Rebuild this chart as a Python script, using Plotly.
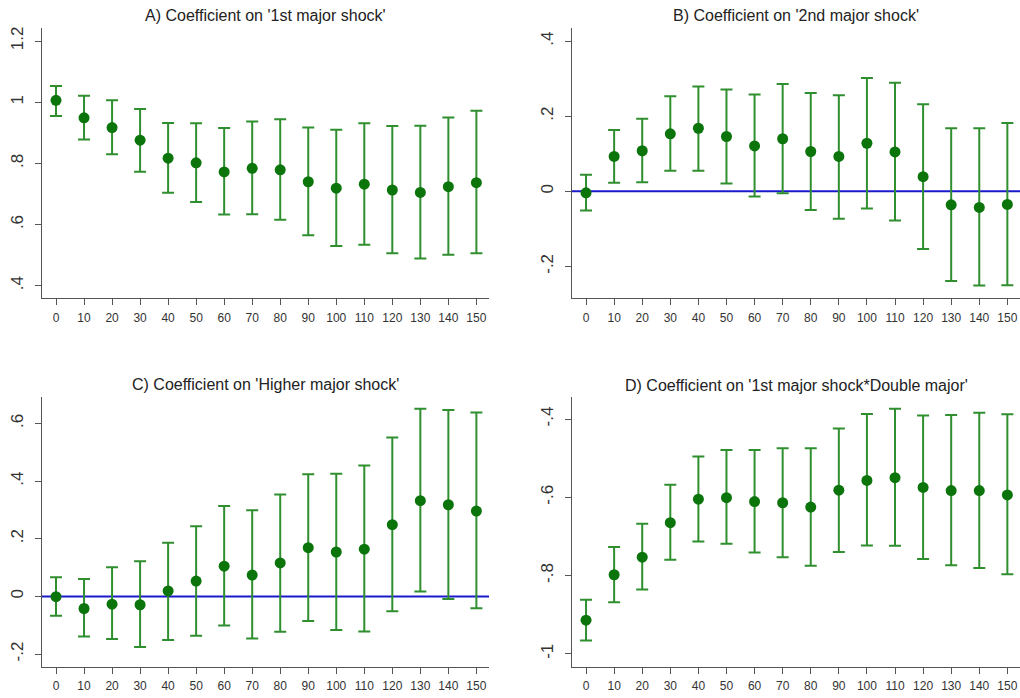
import plotly.graph_objects as go

x_vals = [0, 10, 20, 30, 40, 50, 60, 70, 80, 90, 100, 110, 120, 130, 140, 150]

titles = [
    "A) Coefficient on '1st major shock'",
    "B) Coefficient on '2nd major shock'",
    "C) Coefficient on 'Higher major shock'",
    "D) Coefficient on '1st major shock*Double major'",
]

a_coef = [1.006, 0.949, 0.917, 0.876, 0.817, 0.802, 0.772, 0.784, 0.779, 0.740, 0.719, 0.732, 0.713, 0.705, 0.724, 0.737]
a_upper = [1.053, 1.021, 1.006, 0.978, 0.932, 0.931, 0.916, 0.937, 0.944, 0.917, 0.910, 0.931, 0.922, 0.923, 0.950, 0.972]
a_lower = [0.955, 0.878, 0.830, 0.773, 0.704, 0.674, 0.633, 0.634, 0.616, 0.565, 0.530, 0.534, 0.506, 0.489, 0.501, 0.506]

b_coef = [-0.004, 0.093, 0.108, 0.153, 0.168, 0.146, 0.121, 0.140, 0.106, 0.093, 0.128, 0.105, 0.039, -0.036, -0.043, -0.035]
b_upper = [0.044, 0.163, 0.193, 0.253, 0.279, 0.271, 0.258, 0.286, 0.262, 0.256, 0.302, 0.289, 0.232, 0.168, 0.168, 0.182]
b_lower = [-0.051, 0.023, 0.024, 0.055, 0.055, 0.021, -0.014, -0.005, -0.050, -0.073, -0.046, -0.078, -0.154, -0.239, -0.251, -0.250]

c_coef = [-0.001, -0.042, -0.027, -0.029, 0.019, 0.053, 0.105, 0.074, 0.116, 0.169, 0.154, 0.164, 0.249, 0.332, 0.318, 0.296]
c_upper = [0.066, 0.060, 0.101, 0.122, 0.186, 0.243, 0.314, 0.299, 0.354, 0.424, 0.426, 0.454, 0.551, 0.651, 0.647, 0.638]
c_lower = [-0.067, -0.139, -0.148, -0.176, -0.151, -0.137, -0.101, -0.146, -0.123, -0.085, -0.117, -0.122, -0.052, 0.017, -0.009, -0.041]

d_coef = [-0.914, -0.798, -0.753, -0.665, -0.605, -0.601, -0.611, -0.614, -0.625, -0.582, -0.557, -0.550, -0.575, -0.583, -0.583, -0.594]
d_upper = [-0.862, -0.727, -0.668, -0.568, -0.496, -0.479, -0.479, -0.475, -0.475, -0.424, -0.387, -0.374, -0.391, -0.390, -0.384, -0.388]
d_lower = [-0.966, -0.868, -0.836, -0.760, -0.713, -0.719, -0.741, -0.753, -0.775, -0.740, -0.723, -0.724, -0.758, -0.774, -0.781, -0.797]

a_ticks = [0.4, 0.6, 0.8, 1.0, 1.2]
a_ticktext = [".4", ".6", ".8", "1", "1.2"]
b_ticks = [-0.2, 0.0, 0.2, 0.4]
b_ticktext = ["-.2", "0", ".2", ".4"]
c_ticks = [-0.2, 0.0, 0.2, 0.4, 0.6]
c_ticktext = ["-.2", "0", ".2", ".4", ".6"]
d_ticks = [-1.0, -0.8, -0.6, -0.4]
d_ticktext = ["-1", "-.8", "-.6", "-.4"]

panels = [
    (a_coef, a_upper, a_lower, a_ticks, a_ticktext, [0.359, 1.2425], False),
    (b_coef, b_upper, b_lower, b_ticks, b_ticktext, [-0.285, 0.435], True),
    (c_coef, c_upper, c_lower, c_ticks, c_ticktext, [-0.244, 0.693], True),
    (d_coef, d_upper, d_lower, d_ticks, d_ticktext, [-1.033, -0.343], False),
]

W, H = 1020, 698
x_domains = [[42 / W, 489 / W], [572 / W, 1.0], [42 / W, 489 / W], [572 / W, 1.0]]
y_domains = [[1 - 298.3 / H, 1 - 28 / H], [1 - 298.3 / H, 1 - 28 / H],
             [1 - 666.7 / H, 1 - 396.7 / H], [1 - 666.7 / H, 1 - 396.7 / H]]
title_y = [16, 16, 384, 385]

bar_color = "#2f8f2f"
marker_color = "#0b740b"
axis_color = "#555555"
font_family = "Liberation Sans, Arial, sans-serif"

fig = go.Figure()
layout = dict(
    width=W, height=H,
    margin=dict(l=0, r=0, t=0, b=0),
    paper_bgcolor="white", plot_bgcolor="white",
    showlegend=False,
    font=dict(family=font_family, color="#333333"),
)

annotations = []
for i, (coef, up, lo, ticks, ticktext, yr, zero_line) in enumerate(panels):
    n = "" if i == 0 else str(i + 1)
    xa, ya = "x" + n, "y" + n
    err_plus = [u - c for u, c in zip(up, coef)]
    err_minus = [c - l for c, l in zip(coef, lo)]
    if zero_line:
        fig.add_trace(go.Scatter(
            x=[-10, 170], y=[0, 0], mode="lines",
            line=dict(color="#1a1acc", width=2),
            xaxis=xa, yaxis=ya, hoverinfo="skip"))
    fig.add_trace(go.Scatter(
        x=x_vals, y=coef, mode="markers",
        marker=dict(color=marker_color, size=11),
        error_y=dict(type="data", symmetric=False, array=err_plus, arrayminus=err_minus,
                     color=bar_color, thickness=2, width=6),
        xaxis=xa, yaxis=ya))
    layout["xaxis" + n] = dict(
        domain=x_domains[i], anchor=ya, range=[-5, 154.5],
        tickmode="array", tickvals=x_vals, ticktext=[str(v) for v in x_vals],
        showgrid=False, zeroline=False, showline=True, linecolor=axis_color, linewidth=1.2,
        ticks="outside", ticklen=6, tickcolor=axis_color, tickwidth=1.2,
        ticklabelstandoff=2,
        tickfont=dict(size=12, color="#333333"), fixedrange=True)
    layout["yaxis" + n] = dict(
        domain=y_domains[i], anchor=xa, range=yr,
        tickmode="array", tickvals=ticks, ticktext=ticktext, tickangle=-90,
        showgrid=False, zeroline=False, showline=True, linecolor=axis_color, linewidth=1.2,
        ticks="outside", ticklen=6, tickcolor=axis_color, tickwidth=1.2,
        ticklabelstandoff=5,
        tickfont=dict(size=17, color="#333333"), fixedrange=True)
    xc = (x_domains[i][0] + x_domains[i][1]) / 2
    annotations.append(dict(
        text=titles[i], x=xc, y=1 - title_y[i] / H, xref="paper", yref="paper",
        xanchor="center", yanchor="middle", showarrow=False,
        font=dict(size=16, color="#222222", family=font_family)))

layout["annotations"] = annotations
fig.update_layout(**layout)
fig.write_html("out.html", config={"displayModeBar": False},
               post_script="document.body.style.margin='0';document.body.style.overflow='hidden';")
